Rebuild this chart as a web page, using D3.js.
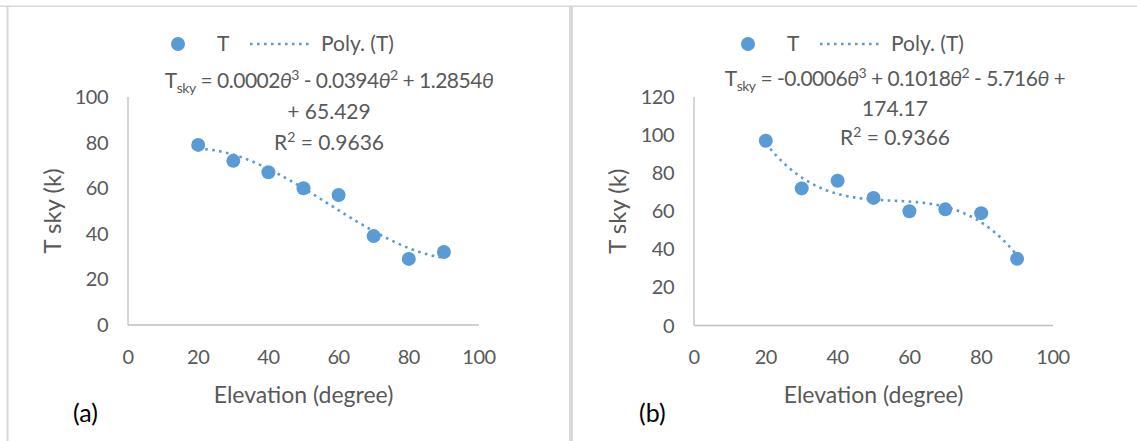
<!DOCTYPE html>
<html>
<head>
<meta charset="utf-8">
<script src="https://cdn.jsdelivr.net/npm/d3@7"></script>
<style>
  html, body { margin: 0; padding: 0; background: #fff; }
  svg { display: block; }
  text { font-family: Lato, "Open Sans", sans-serif; fill: #595959; }
</style>
</head>
<body>
<svg id="chart" width="1137" height="441"></svg>
<script>
// Elevation angles (degrees) shared by both panels
const elevation = [20, 30, 40, 50, 60, 70, 80, 90];
// Measured sky temperature (K), panel (a) and panel (b)
const tSkyA = [79, 72, 67, 60, 57, 39, 29, 32];
const tSkyB = [97, 72, 76, 67, 60, 61, 59, 35];

const xTicks = [0, 20, 40, 60, 80, 100];
const yTicksA = [0, 20, 40, 60, 80, 100];
const yTicksB = [0, 20, 40, 60, 80, 100, 120];

// Trend-line equation text as printed on each panel: [text, superscript, italic]
const eqLinesA = [
  [[" = 0.0002", "", false], ["θ", "3", true], [" - 0.0394", "", false], ["θ", "2", true],
   [" + 1.2854", "", false], ["θ", "", true]],
  "+ 65.429",
  "R² = 0.9636"
];
const eqLinesB = [
  [[" = -0.0006", "", false], ["θ", "3", true], [" + 0.1018", "", false], ["θ", "2", true],
   [" - 5.716", "", false], ["θ", "", true], [" +", "", false]],
  "174.17",
  "R² = 0.9366"
];

const BLUE = "#5b9bd5";
const svg = d3.select("#chart");

// Frame lines around the two panels
svg.append("rect").attr("x", 0).attr("y", 5.5).attr("width", 1137).attr("height", 1.5).attr("fill", "#d9d9d9");
svg.append("rect").attr("x", 6.5).attr("y", 5.5).attr("width", 2).attr("height", 436).attr("fill", "#d9d9d9");
svg.append("rect").attr("x", 569).attr("y", 5.5).attr("width", 4).attr("height", 436).attr("fill", "#d9d9d9");

// Least-squares cubic fit (polynomial trendline, order 3)
function cubicFit(xs, ys) {
  const n = 4;
  const A = Array.from({length: n}, () => new Array(n + 1).fill(0));
  xs.forEach((x, k) => {
    for (let i = 0; i < n; i++) {
      for (let j = 0; j < n; j++) A[i][j] += Math.pow(x, i + j);
      A[i][n] += ys[k] * Math.pow(x, i);
    }
  });
  for (let c = 0; c < n; c++) {
    let p = c;
    for (let r = c + 1; r < n; r++) if (Math.abs(A[r][c]) > Math.abs(A[p][c])) p = r;
    [A[c], A[p]] = [A[p], A[c]];
    for (let r = 0; r < n; r++) {
      if (r === c) continue;
      const f = A[r][c] / A[c][c];
      for (let k = c; k <= n; k++) A[r][k] -= f * A[c][k];
    }
  }
  const coef = A.map((row, i) => row[n] / row[i]);
  return x => coef[0] + coef[1] * x + coef[2] * x * x + coef[3] * x * x * x;
}

function drawPanel(cfg) {
  const g = svg.append("g");
  const x = d3.scaleLinear().domain([0, 100]).range([cfg.x0, cfg.x1]);
  const y = d3.scaleLinear().domain([0, cfg.yMax]).range([cfg.yBot, cfg.yTop]);

  // Axis lines
  g.append("line").attr("x1", x(0)).attr("x2", x(100)).attr("y1", y(0)).attr("y2", y(0))
    .attr("stroke", "#bfbfbf").attr("stroke-width", 1.3);
  g.append("line").attr("x1", x(0)).attr("x2", x(0)).attr("y1", y(0)).attr("y2", y(cfg.yMax))
    .attr("stroke", "#bfbfbf").attr("stroke-width", 1.3);

  // Tick labels
  g.selectAll(".xt").data(xTicks).enter().append("text")
    .attr("x", d => x(d)).attr("y", 364).attr("text-anchor", "middle")
    .style("font-size", "20px").style("letter-spacing", "-0.5px").text(d => d);
  g.selectAll(".yt").data(cfg.yTicks).enter().append("text")
    .attr("x", cfg.x0 - 20).attr("y", d => y(d) + 7).attr("text-anchor", "end")
    .style("font-size", "20px").style("letter-spacing", "-0.5px").text(d => d);

  // Axis titles
  g.append("text").attr("x", (cfg.x0 + cfg.x1) / 2).attr("y", 403).attr("text-anchor", "middle")
    .style("font-size", "23px").text("Elevation (degree)");
  g.append("text").attr("transform", `translate(${cfg.yTitleX},${(cfg.yTop + cfg.yBot) / 2}) rotate(-90)`)
    .attr("text-anchor", "middle").style("font-size", "24px").text("T sky (k)");

  // Panel tag
  g.append("text").attr("x", cfg.tagX).attr("y", 422).style("font-size", "25px")
    .style("fill", "#000").text(cfg.tag);

  // Polynomial trendline
  const f = cubicFit(elevation, cfg.values);
  const curve = d3.range(20, 90.01, 0.5).map(v => [v, f(v)]);
  g.append("path").datum(curve)
    .attr("d", d3.line().x(d => x(d[0])).y(d => y(d[1])))
    .attr("fill", "none").attr("stroke", BLUE).attr("stroke-width", 2.6)
    .attr("stroke-dasharray", "2.6 4.4");

  // Data points
  g.selectAll(".pt").data(elevation).enter().append("circle")
    .attr("cx", d => x(d)).attr("cy", (d, i) => y(cfg.values[i])).attr("r", 7)
    .attr("fill", BLUE);

  // Legend
  const lx = cfg.legendX;
  g.append("circle").attr("cx", lx).attr("cy", 44).attr("r", 7).attr("fill", BLUE);
  g.append("text").attr("x", lx + 39).attr("y", 51).style("font-size", "21px").text("T");
  g.append("line").attr("x1", lx + 72).attr("x2", lx + 135).attr("y1", 44).attr("y2", 44)
    .attr("stroke", BLUE).attr("stroke-width", 2.6).attr("stroke-dasharray", "2.6 4.4");
  g.append("text").attr("x", lx + 143).attr("y", 51).style("font-size", "21px").text("Poly. (T)");

  // Trendline equation, first line built from pieces with sub/superscripts
  const eq = cfg.eqLines;
  const t1 = g.append("text").attr("x", cfg.eqX).attr("y", cfg.eqY[0])
    .attr("text-anchor", "middle").style("font-size", "21px").style("letter-spacing", "-0.5px");
  t1.append("tspan").text("T");
  t1.append("tspan").attr("dy", 5).style("font-size", "14px").text("sky");
  let shift = -5;
  eq[0].forEach(([txt, sup, ital]) => {
    const s = t1.append("tspan").attr("dy", shift).text(txt);
    shift = 0;
    if (ital) s.style("font-style", "italic");
    if (sup) {
      t1.append("tspan").attr("dy", -8).style("font-size", "14px").text(sup);
      shift = 8;
    }
  });
  g.append("text").attr("x", cfg.eqX).attr("y", cfg.eqY[1]).attr("text-anchor", "middle")
    .style("font-size", "21px").text(eq[1]);
  const r2 = g.append("text").attr("x", cfg.eqX).attr("y", cfg.eqY[2]).attr("text-anchor", "middle")
    .style("font-size", "21px");
  r2.append("tspan").text("R");
  r2.append("tspan").attr("dy", -8).style("font-size", "14px").text("2");
  r2.append("tspan").attr("dy", 8).text(eq[2].slice(2));
}

drawPanel({
  x0: 128, x1: 479, yTop: 97, yBot: 325, yMax: 100, yTicks: yTicksA,
  values: tSkyA, yTitleX: 61, tag: "(a)", tagX: 73, legendX: 178,
  eqLines: eqLinesA, eqX: 329, eqY: [88, 119, 150]
});
drawPanel({
  x0: 694, x1: 1053, yTop: 97, yBot: 325.5, yMax: 120, yTicks: yTicksB,
  values: tSkyB, yTitleX: 626, tag: "(b)", tagX: 639, legendX: 748,
  eqLines: eqLinesB, eqX: 895, eqY: [86, 116, 145]
});
</script>
</body>
</html>
